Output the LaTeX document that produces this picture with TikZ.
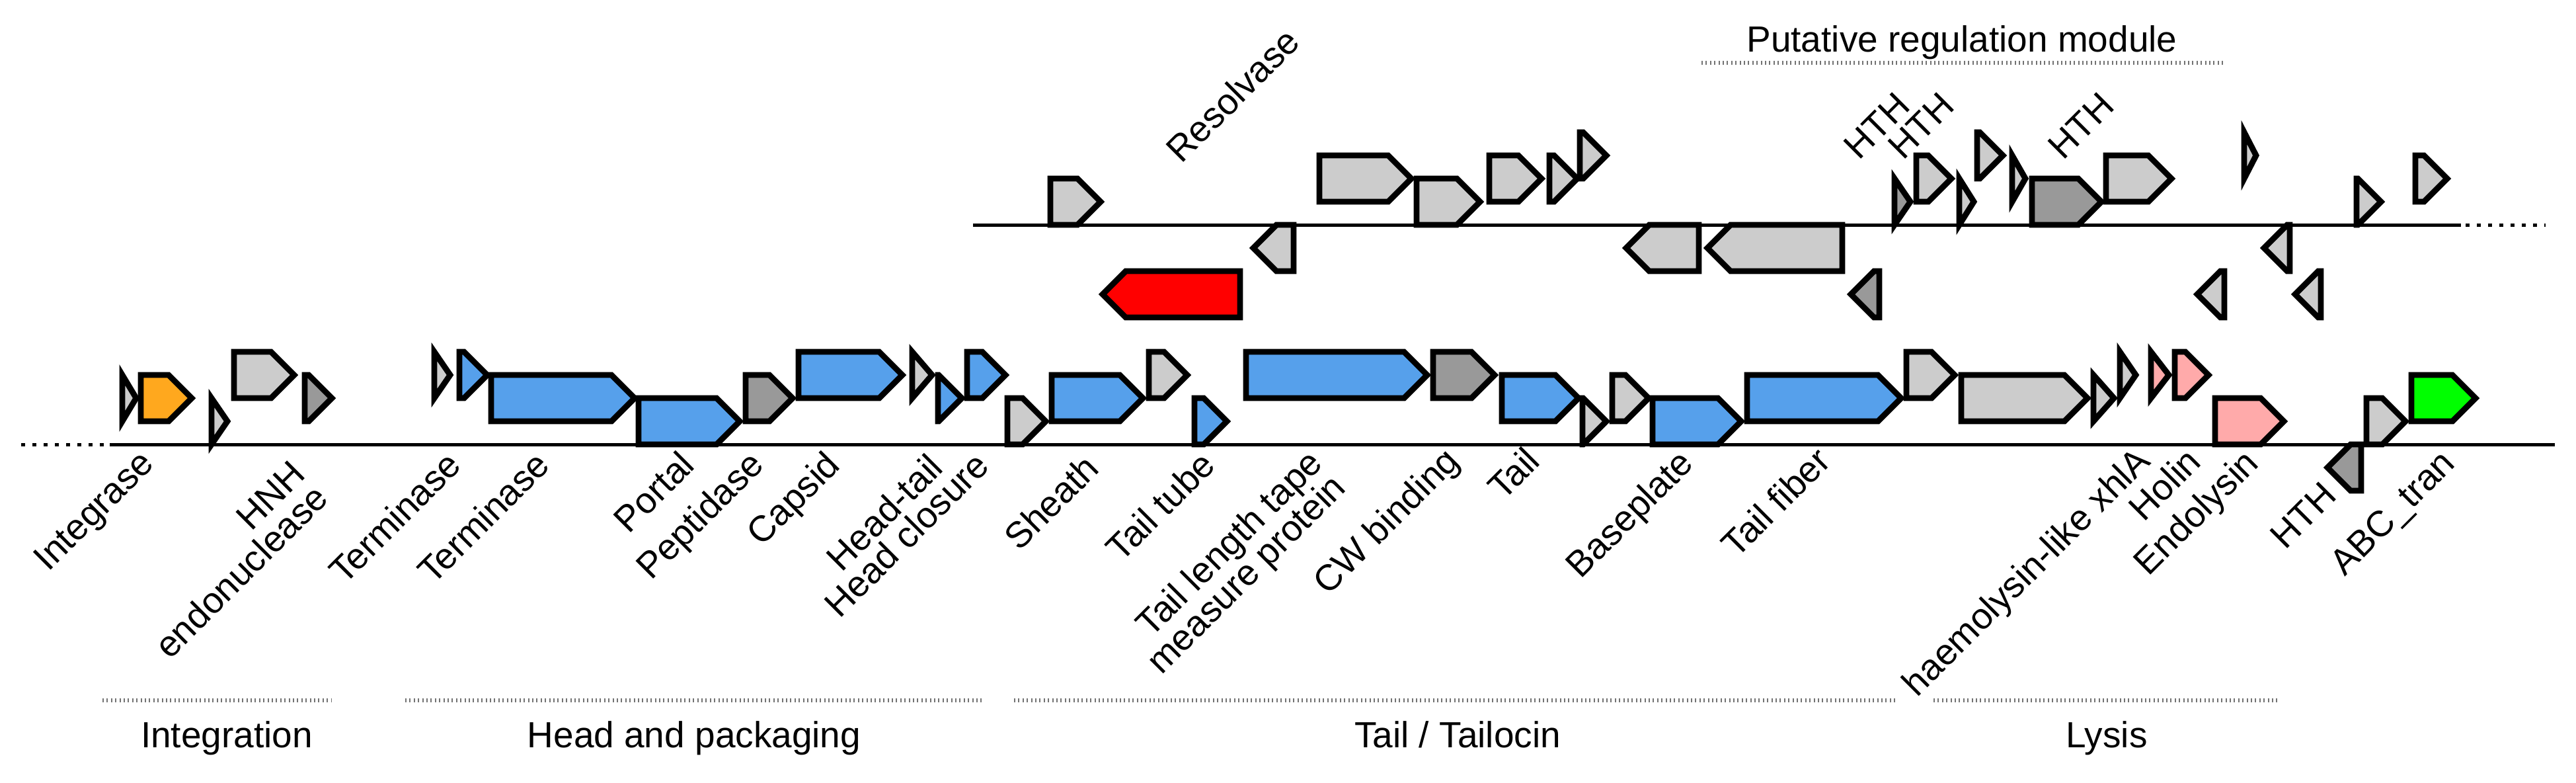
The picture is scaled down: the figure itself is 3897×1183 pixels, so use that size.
\documentclass[tikz,border=0pt]{standalone}
\usepackage{fontspec}
\setmainfont{Liberation Sans}
\definecolor{lg}{RGB}{204,204,204}
\definecolor{dg}{RGB}{153,153,153}
\definecolor{blu}{RGB}{86,160,235}
\definecolor{orng}{RGB}{255,168,30}
\definecolor{pnk}{RGB}{255,170,170}
\definecolor{grn}{RGB}{0,255,0}
\definecolor{rd}{RGB}{255,0,0}
\newcommand{\lblfont}{\fontsize{13.75pt}{16pt}\selectfont}
\newcommand{\gfwd}[4]{%
  \pgfmathsetmacro{\gLenX}{#2-#1}%
  \ifdim\gLenX pt<36pt\relax
    \draw[gene,fill=#4] (#1,#3) -- (#2,#3+35) -- (#1,#3+70) -- cycle;%
  \else
    \draw[gene,fill=#4] (#1,#3) -- (#2-35,#3) -- (#2,#3+35) -- (#2-35,#3+70) -- (#1,#3+70) -- cycle;%
  \fi}
\newcommand{\grev}[4]{%
  \pgfmathsetmacro{\gLenX}{#2-#1}%
  \ifdim\gLenX pt<36pt\relax
    \draw[gene,fill=#4] (#2,#3) -- (#1,#3+35) -- (#2,#3+70) -- cycle;%
  \else
    \draw[gene,fill=#4] (#2,#3) -- (#1+35,#3) -- (#1,#3+35) -- (#1+35,#3+70) -- (#2,#3+70) -- cycle;%
  \fi}
\begin{document}
\begin{tikzpicture}[x=0.25pt,y=-0.25pt,
  gene/.style={draw=black,line width=2.2pt,line join=miter,miter limit=10},
  gline/.style={line width=1.25pt},
  gdots/.style={line width=1.25pt,dash pattern=on 1.5pt off 2.75pt},
  modline/.style={line width=1.3pt,black!55,dash pattern=on 0.5pt off 1.1pt},
  glab/.style={rotate=45,anchor=base east,inner sep=0pt,font=\lblfont},
  mlab/.style={anchor=base,inner sep=0pt,font=\lblfont}]
\useasboundingbox (0,0) rectangle (3897,1183);

% genome lines
\draw[gdots] (32,672) -- (166,672);
\draw[gline] (166,672) -- (3865,672);
\draw[gline] (1472,340) -- (3723,340);
\draw[gdots] (3730,340) -- (3851,340);

% lower genome genes
\gfwd{185}{206}{567}{lg}
\gfwd{213}{290}{567}{orng}
\gfwd{320}{344}{602}{lg}
\gfwd{354}{445}{532}{lg}
\gfwd{461}{502}{567}{dg}
\gfwd{657}{681}{532}{lg}
\gfwd{695}{737}{532}{blu}
\gfwd{743}{960}{567}{blu}
\gfwd{966}{1119}{602}{blu}
\gfwd{1128}{1199}{567}{dg}
\gfwd{1208}{1365}{532}{blu}
\gfwd{1380}{1410}{532}{lg}
\gfwd{1419}{1455}{567}{blu}
\gfwd{1463}{1521}{532}{blu}
\gfwd{1524}{1582}{602}{lg}
\gfwd{1591}{1729}{567}{blu}
\gfwd{1738}{1796}{532}{lg}
\gfwd{1807}{1856}{602}{blu}
\gfwd{1885}{2159}{532}{blu}
\gfwd{2168}{2261}{532}{dg}
\gfwd{2272}{2388}{567}{blu}
\gfwd{2394}{2430}{602}{lg}
\gfwd{2439}{2494}{567}{lg}
\gfwd{2500}{2634}{602}{blu}
\gfwd{2643}{2876}{567}{blu}
\gfwd{2884}{2957}{532}{lg}
\gfwd{2967}{3158}{567}{lg}
\gfwd{3167}{3198}{567}{lg}
\gfwd{3207}{3231}{532}{lg}
\gfwd{3254}{3281}{532}{pnk}
\gfwd{3290}{3341}{532}{pnk}
\gfwd{3351}{3455}{602}{pnk}
\grev{3521}{3572}{672}{dg}
\gfwd{3580}{3639}{602}{lg}
\gfwd{3648}{3745}{567}{grn}

% upper genome genes
\gfwd{1589}{1665}{270}{lg}
\gfwd{1996}{2135}{235}{lg}
\gfwd{2143}{2239}{270}{lg}
\gfwd{2253}{2332}{235}{lg}
\gfwd{2344}{2386}{235}{lg}
\gfwd{2390}{2430}{200}{lg}
\gfwd{2866}{2890}{270}{dg}
\gfwd{2899}{2952}{235}{lg}
\gfwd{2964}{2986}{270}{lg}
\gfwd{2991}{3030}{200}{lg}
\gfwd{3044}{3064}{235}{lg}
\gfwd{3074}{3179}{270}{dg}
\gfwd{3186}{3285}{235}{lg}
\gfwd{3395}{3413}{200}{lg}
\gfwd{3565}{3602}{270}{lg}
\gfwd{3654}{3702}{235}{lg}
\grev{1896}{1957}{340}{lg}
\grev{1668}{1876}{410}{rd}
\grev{2460}{2570}{340}{lg}
\grev{2583}{2787}{340}{lg}
\grev{2800}{2843}{410}{dg}
\grev{3324}{3365}{410}{lg}
\grev{3425}{3464}{340}{lg}
\grev{3472}{3511}{410}{lg}

% gene labels
\node[glab] (tInt) at (236,703) {Integrase};
\node[glab] (tHNH) at (465,720) {HNH};
\node[glab] (tEndo) at (500,756) {endonuclease};
\node[glab] (tTer1) at (701,706) {Terminase};
\node[glab] (tTer2) at (835,706) {Terminase};
\node[glab] (tPor) at (1054,706) {Portal};
\node[glab] (tPep) at (1159,705) {Peptidase};
\node[glab] (tCap) at (1274,706) {Capsid};
\node[glab] (tHT) at (1430,710) {Head-tail};
\node[glab] (tHC) at (1500,707) {Head closure};
\node[glab] (tShe) at (1666,711) {Sheath};
\node[glab] (tTT) at (1842,706) {Tail tube};
\node[glab] (tTLT) at (2004,703) {Tail length tape};
\node[glab] (tMP) at (2039,740) {measure protein};
\node[glab] (tCW) at (2211,700) {CW binding};
\node[glab] (tTail) at (2333,700) {Tail};
\node[glab] (tBase) at (2565,703) {Baseplate};
\node[glab] (tTF) at (2773,700) {Tail fiber};
\node[glab] (tHae) at (3256,700) {haemolysin-like xhlA};
\node[glab] (tHol) at (3333,701) {Holin};
\node[glab] (tEnd) at (3420,703) {Endolysin};
\node[glab] (tHTHl) at (3538,752) {HTH};
\node[glab] (tABC) at (3717,703) {ABC\textunderscore tran};
\node[glab] (tRes) at (1970,66) {Resolvase};
\node[glab] (tHTH1) at (2893,163) {HTH};
\node[glab] (tHTH2) at (2960,163) {HTH};
\node[glab] (tHTH3) at (3202,163) {HTH};

% module bars and labels
\draw[modline] (2574,95) -- (3366,95);
\node[mlab] (mReg) at (2968,78) {Putative regulation module};
\draw[modline] (155,1059) -- (501,1059);
\draw[modline] (613,1059) -- (1489,1059);
\draw[modline] (1534,1059) -- (2868,1059);
\draw[modline] (2925,1059) -- (3445,1059);
\node[mlab] (mInt) at (343,1130) {Integration};
\node[mlab] (mHead) at (1050,1130) {Head and packaging};
\node[mlab] (mTail) at (2205,1130) {Tail / Tailocin};
\node[mlab] (mLys) at (3187,1130) {Lysis};
\end{tikzpicture}
\end{document}
